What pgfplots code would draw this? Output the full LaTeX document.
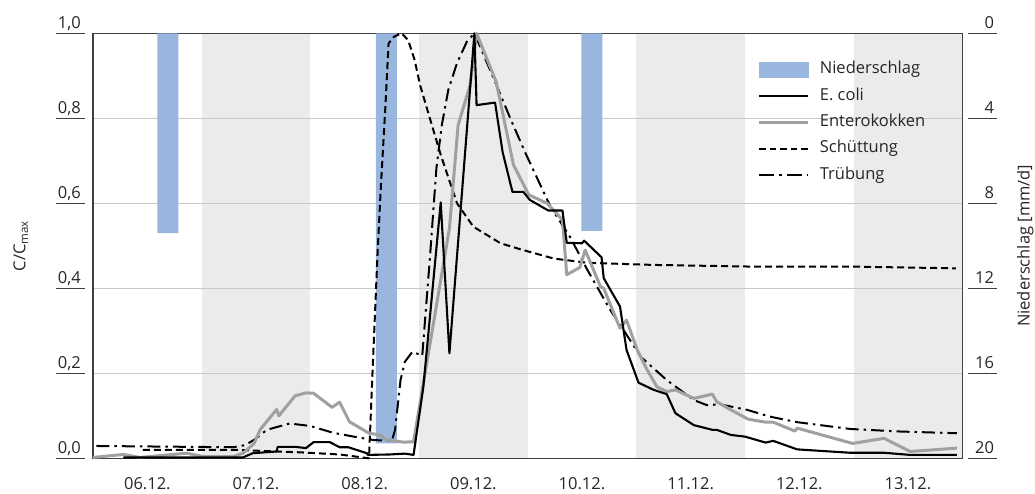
\documentclass[border=0pt]{standalone}
\usepackage{fontspec}
\setmainfont{Open Sans}
\usepackage{pgfplots}
\pgfplotsset{compat=1.18}
\definecolor{raincol}{HTML}{98B6DE}
\definecolor{bandcol}{HTML}{EBEBEB}
\definecolor{gridcol}{HTML}{C8C8C8}
\definecolor{entcol}{HTML}{A0A0A0}
\definecolor{framecol}{HTML}{404040}
\definecolor{txtcol}{HTML}{262626}
\begin{document}
\fontsize{16.5}{19}\selectfont
\begin{tikzpicture}
% ---------- rain axis (right) ----------
\begin{axis}[
  set layers,
  at={(0pt,0pt)}, anchor=south west,
  scale only axis, width=869.3pt, height=425pt,
  xmin=0, xmax=8, ymin=0, ymax=20, y dir=reverse,
  xtick=\empty,
  ytick={0,4,8,12,16,20},
  yticklabel pos=right,
  ymajorgrids, grid style={gridcol, line width=1.5pt},
  major tick length=0pt,
  axis line style={draw=none},
  yticklabel style={anchor=base east, inner sep=0pt, xshift=32pt, yshift=5pt, text=txtcol,
    /pgf/number format/assume math mode=true},
  ylabel={Niederschlag [mm/d]},
  ylabel style={at={(axis description cs:1.0725,0.5)}, anchor=center, text=txtcol},
]
\begin{pgfonlayer}{axis background}
\fill[bandcol] (axis cs:1,0) rectangle (axis cs:2,20);
\fill[bandcol] (axis cs:3,0) rectangle (axis cs:4,20);
\fill[bandcol] (axis cs:5,0) rectangle (axis cs:6,20);
\fill[bandcol] (axis cs:7,0) rectangle (axis cs:8,20);
\end{pgfonlayer}
\addplot[ybar, bar width=21pt, bar shift=0pt, fill=raincol, draw=none]
  coordinates {(0.69,9.4) (2.70,19.3) (4.59,9.3)};
\end{axis}
% ---------- main axis (left) ----------
\begin{axis}[
  set layers,
  at={(0pt,0pt)}, anchor=south west,
  scale only axis, width=869.3pt, height=425pt,
  xmin=0, xmax=8, ymin=0, ymax=1,
  clip=false,
  xtick={0.5,1.5,2.5,3.5,4.5,5.5,6.5,7.5},
  xticklabels={06.12.,07.12.,08.12.,09.12.,10.12.,11.12.,12.12.,13.12.},
  ytick={0,0.2,0.4,0.6,0.8,1},
  major tick length=0pt,
  axis line style={framecol, line width=1.4pt},
  xticklabel style={anchor=north, inner sep=0pt, yshift=-19pt, text=txtcol},
  yticklabel style={anchor=base east, inner sep=0pt, xshift=-12pt, yshift=5pt, text=txtcol,
    /pgf/number format/.cd, use comma, fixed, fixed zerofill, precision=1, assume math mode=true},
  ylabel={C/C\textsubscript{max}},
  ylabel style={at={(axis description cs:-0.083,0.5)}, anchor=center, text=txtcol},
  legend image code/.code={\draw[#1] (0pt,0pt) -- (49pt,0pt);},
  legend cell align=left,
  legend style={at={(axis description cs:0.7646,0.933)}, anchor=north west,
    draw=none, fill=none, inner sep=0pt, column sep=8pt, row sep=10.3pt,
    nodes={inner ysep=0pt, text height=12pt, text depth=4pt, text=txtcol}},
]
\pgfplotsinvokeforeach{0,0.2,0.4,0.6,0.8,1}{
  \draw[framecol, line width=1.3pt] ([xshift=-37pt]axis cs:0,#1) -- ([xshift=-8pt]axis cs:0,#1);
  \draw[framecol, line width=1.3pt] ([xshift=6pt]axis cs:8,#1) -- ([xshift=34.5pt]axis cs:8,#1);
}
\addlegendimage{legend image code/.code={\fill[raincol] (0pt,-7.5pt) rectangle (49pt,7.5pt);}}
\addlegendentry{Niederschlag}
\addlegendimage{black, line width=2.1pt}
\addlegendentry{E. coli}
\addlegendimage{entcol, line width=3pt}
\addlegendentry{Enterokokken}
\addlegendimage{black, line width=2pt, dash pattern=on 6.5pt off 4pt}
\addlegendentry{Schüttung}
\addlegendimage{black, line width=2pt, dash pattern=on 15pt off 5pt on 2.5pt off 5pt}
\addlegendentry{Trübung}
% Schüttung
\addplot[forget plot, black, line width=2pt, dash pattern=on 7pt off 4pt, line join=round] coordinates {
(0.46,0.020) (1.29,0.020) (1.91,0.014) (2.27,0.009) (2.54,0.0) (2.58,0.25) (2.62,0.49)
(2.65,0.643) (2.69,0.824) (2.72,0.976) (2.77,0.992) (2.84,1.0) (2.90,0.984) (2.96,0.937)
(3.01,0.878) (3.10,0.80) (3.20,0.714) (3.35,0.60) (3.50,0.545) (3.75,0.506) (3.93,0.492)
(4.24,0.47) (4.55,0.46) (5.16,0.455) (6.08,0.451) (7.00,0.451) (7.94,0.447)};
% Trübung
\addplot[forget plot, black, line width=2pt, dash pattern=on 13pt off 5pt on 2.5pt off 5pt, line join=round] coordinates {
(0.03,0.029) (1.29,0.026) (1.40,0.031) (1.48,0.043) (1.60,0.067) (1.81,0.082) (2.00,0.076)
(2.21,0.060) (2.40,0.051) (2.58,0.043) (2.75,0.041) (2.78,0.067) (2.83,0.184) (2.87,0.227)
(2.94,0.251) (3.03,0.241) (3.10,0.47) (3.16,0.682) (3.21,0.784) (3.27,0.867) (3.35,0.93)
(3.44,0.98) (3.51,1.0) (3.70,0.886) (3.84,0.80) (3.98,0.718) (4.21,0.592) (4.39,0.521)
(4.55,0.443) (4.76,0.349) (4.91,0.291) (5.04,0.239) (5.28,0.184) (5.53,0.137) (5.65,0.125)
(5.77,0.127) (6.02,0.114) (6.23,0.098) (6.48,0.085) (6.97,0.069) (7.43,0.063) (7.95,0.059)};
% Enterokokken
\addplot[forget plot, entcol, line width=3pt, line join=round] coordinates {
(0.00,0.002) (0.28,0.009) (0.43,0.002) (0.86,0.012) (1.02,0.004) (1.29,0.004) (1.38,0.012)
(1.48,0.034) (1.54,0.068) (1.69,0.115) (1.71,0.100) (1.86,0.147) (1.96,0.154) (2.03,0.153)
(2.20,0.120) (2.27,0.132) (2.36,0.086) (2.54,0.059) (2.64,0.055) (2.70,0.043) (2.86,0.038)
(2.95,0.039) (3.28,0.541) (3.36,0.784) (3.47,0.878) (3.53,1.0) (3.71,0.886) (3.87,0.69)
(4.01,0.62) (4.18,0.60) (4.32,0.561) (4.36,0.432) (4.48,0.449) (4.53,0.49) (4.67,0.404)
(4.70,0.40) (4.85,0.306) (4.91,0.325) (5.01,0.254) (5.10,0.208) (5.19,0.168) (5.28,0.157)
(5.36,0.161) (5.53,0.141) (5.70,0.151) (5.74,0.133) (5.87,0.114) (6.03,0.092) (6.19,0.085)
(6.26,0.085) (6.46,0.064) (6.48,0.071) (6.99,0.035) (7.28,0.047) (7.52,0.016) (7.95,0.024)};
% E. coli
\addplot[forget plot, black, line width=2.1pt, line join=round] coordinates {
(0.28,0.002) (1.38,0.002) (1.47,0.012) (1.69,0.016) (1.70,0.027) (1.86,0.027) (1.96,0.024)
(2.03,0.038) (2.18,0.038) (2.27,0.026) (2.35,0.026) (2.52,0.012) (2.53,0.008) (2.73,0.009)
(2.87,0.011) (2.95,0.008) (3.04,0.168) (3.20,0.602) (3.28,0.247) (3.51,1.0) (3.53,0.831)
(3.70,0.837) (3.77,0.72) (3.86,0.627) (3.96,0.627) (4.02,0.608) (4.19,0.583) (4.32,0.583)
(4.36,0.507) (4.50,0.506) (4.52,0.512) (4.68,0.473) (4.70,0.424) (4.85,0.357) (4.91,0.255)
(5.02,0.178) (5.16,0.161) (5.28,0.151) (5.36,0.106) (5.53,0.078) (5.70,0.067) (5.74,0.067)
(5.87,0.055) (6.00,0.051) (6.19,0.037) (6.26,0.041) (6.48,0.021) (6.97,0.013) (7.28,0.013)
(7.52,0.008) (7.95,0.008)};
\end{axis}
\pgfresetboundingbox
\path[use as bounding box] (-93pt,-34.7pt) rectangle (942pt,458.3pt);
\end{tikzpicture}
\end{document}
